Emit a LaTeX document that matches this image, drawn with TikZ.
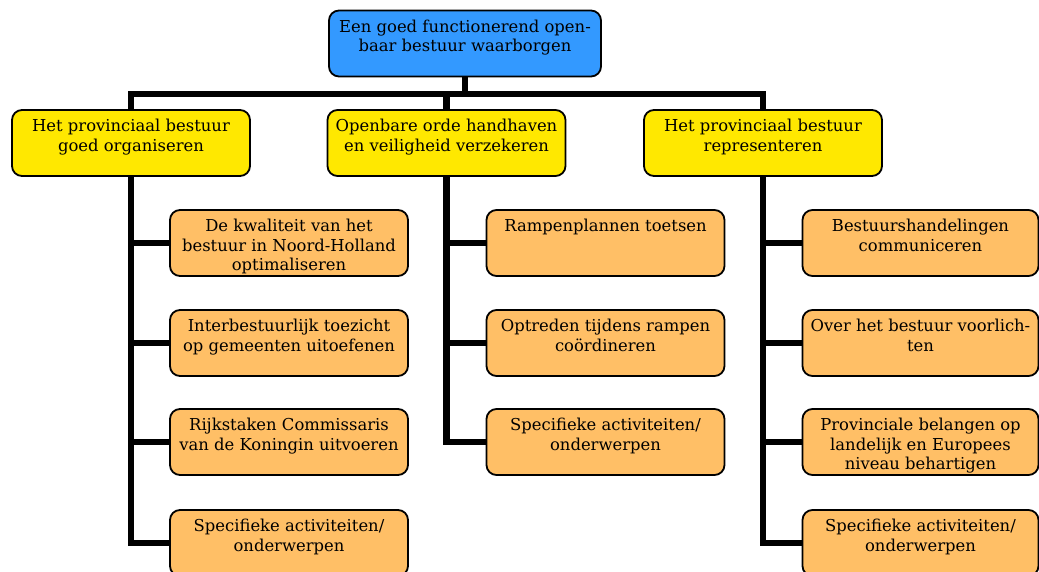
\documentclass[tikz,border=0pt]{standalone}
\usepackage{fontspec}
\setmainfont{DejaVu Serif}
\definecolor{topblue}{HTML}{3399FF}
\definecolor{mainyellow}{HTML}{FFE800}
\definecolor{taskorange}{HTML}{FFBF66}
\tikzset{
	box/.style={draw=black,line width=1.8pt,rounded corners=10pt,inner xsep=4pt,inner ysep=0pt,
		execute at begin node={\begin{minipage}[c][66pt][t]{#1}\centering\fontsize{16.4}{19.5}\selectfont\vspace*{8.3pt}\strut},
		execute at end node={\end{minipage}}},
	box/.default=230pt,
	tree/.style={line width=6.5pt}
}
\begin{document}
\begin{tikzpicture}[x=1pt,y=-1pt]
	\useasboundingbox (0,0) rectangle (1039,572);
	% top
	\node[box=264pt,fill=topblue] (top) at (465,43.5) {Een goed functionerend open-\\baar bestuur waarborgen};
	% main tasks
	\node[box,fill=mainyellow] (l1) at (131,143) {Het provinciaal bestuur\\goed organiseren};
	\node[box,fill=mainyellow] (l2) at (446.5,143) {Openbare orde handhaven\\en veiligheid verzekeren};
	\node[box,fill=mainyellow] (l3) at (763,143) {Het provinciaal bestuur\\representeren};
	% sub tasks
	\node[box,fill=taskorange] (a1) at (289,243) {De kwaliteit van het\\bestuur in Noord-Holland\\optimaliseren};
	\node[box,fill=taskorange] (a2) at (289,343) {Interbestuurlijk toezicht\\op gemeenten uitoefenen};
	\node[box,fill=taskorange] (a3) at (289,442) {Rijkstaken Commissaris\\van de Koningin uitvoeren};
	\node[box,fill=taskorange] (a4) at (289,543) {Specifieke activiteiten/\\onderwerpen};
	\node[box,fill=taskorange] (b1) at (605.5,243) {Rampenplannen toetsen};
	\node[box,fill=taskorange] (b2) at (605.5,343) {Optreden tijdens rampen\\coördineren};
	\node[box,fill=taskorange] (b3) at (605.5,442) {Specifieke activiteiten/\\onderwerpen};
	\node[box=228pt,fill=taskorange] (c1) at (920.5,243) {Bestuurshandelingen\\communiceren};
	\node[box=228pt,fill=taskorange] (c2) at (920.5,343) {Over het bestuur voorlich-\\ten};
	\node[box=228pt,fill=taskorange] (c3) at (920.5,442) {Provinciale belangen op\\landelijk en Europees\\niveau behartigen};
	\node[box=228pt,fill=taskorange] (c4) at (920.5,543) {Specifieke activiteiten/\\onderwerpen};
	% connectors
	\coordinate (bar) at (465,94);
	\draw[tree] (top.south) -- (bar);
	\draw[tree] (l1.north) |- (bar) -| (l3.north);
	\draw[tree] (l2.north) -- (l2.north |- bar);
	\foreach \n in {a1,a2,a3,a4}
		\draw[tree] (l1.south) |- (\n.west);
	\foreach \n in {b1,b2,b3}
		\draw[tree] (l2.south) |- (\n.west);
	\foreach \n in {c1,c2,c3,c4}
		\draw[tree] (l3.south) |- (\n.west);
\end{tikzpicture}
\end{document}
